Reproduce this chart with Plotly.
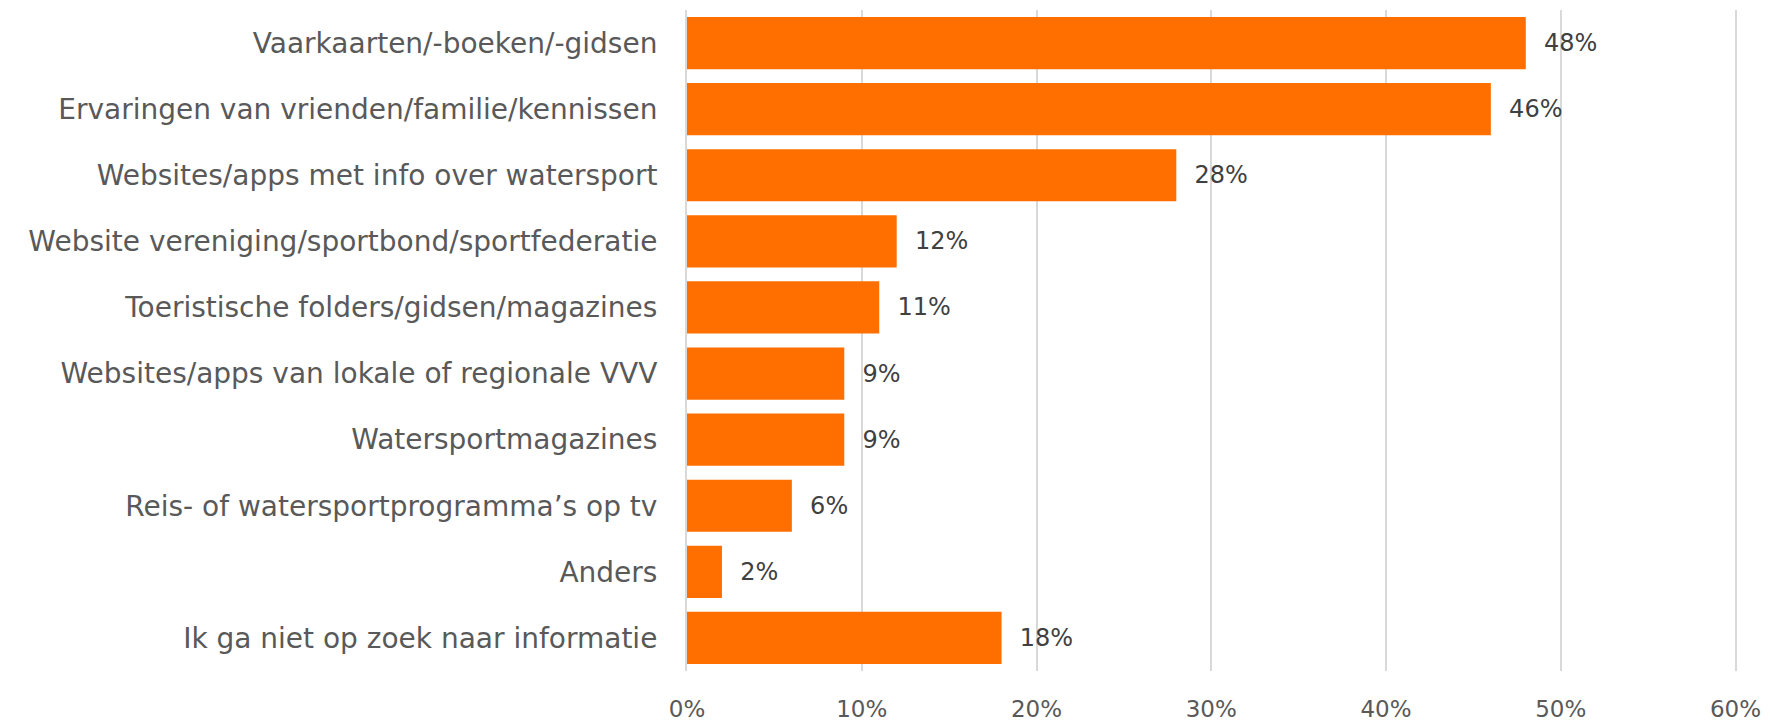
import plotly.graph_objects as go

categories = [
    "Vaarkaarten/-boeken/-gidsen",
    "Ervaringen van vrienden/familie/kennissen",
    "Websites/apps met info over watersport",
    "Website vereniging/sportbond/sportfederatie",
    "Toeristische folders/gidsen/magazines",
    "Websites/apps van lokale of regionale VVV",
    "Watersportmagazines",
    "Reis- of watersportprogramma\u2019s op tv",
    "Anders",
    "Ik ga niet op zoek naar informatie",
]
values = [0.48, 0.46, 0.28, 0.12, 0.11, 0.09, 0.09, 0.06, 0.02, 0.18]
tick_vals = [0, 0.1, 0.2, 0.3, 0.4, 0.5, 0.6]
tick_text = ["0%", "10%", "20%", "30%", "40%", "50%", "60%"]

FONT = "Century Gothic, URW Gothic, DejaVu Sans, sans-serif"

fig = go.Figure(
    go.Bar(
        x=values,
        y=categories,
        orientation="h",
        marker=dict(color="#FF6F00", line=dict(width=0)),
        texttemplate="\u00a0\u00a0%{x:.0%}",
        textposition="outside",
        textfont=dict(family=FONT, size=24, color="#404040"),
        cliponaxis=False,
    )
)

# page body has an 8px default margin, so the figure is sized/offset to compensate
fig.update_layout(
    width=1762,
    height=714,
    margin=dict(l=679, r=31, t=2, b=51),
    paper_bgcolor="white",
    plot_bgcolor="white",
    bargap=0.21,
    showlegend=False,
    font=dict(family=FONT, size=24, color="#595959"),
)
fig.update_xaxes(
    range=[0, 0.602],
    tickvals=tick_vals,
    ticktext=tick_text,
    showgrid=True,
    gridcolor="#D9D9D9",
    gridwidth=2,
    zeroline=False,
    showline=False,
    ticks="outside",
    ticklen=17,
    tickcolor="rgba(0,0,0,0)",
    tickfont=dict(family=FONT, size=23, color="#595959"),
    automargin=False,
)
fig.update_yaxes(
    autorange="reversed",
    showgrid=False,
    zeroline=False,
    showline=True,
    linecolor="#D9D9D9",
    linewidth=2,
    ticks="outside",
    ticklen=22,
    tickcolor="rgba(0,0,0,0)",
    tickfont=dict(family=FONT, size=28, color="#595959"),
    automargin=False,
)

fig.write_html("out.html")
